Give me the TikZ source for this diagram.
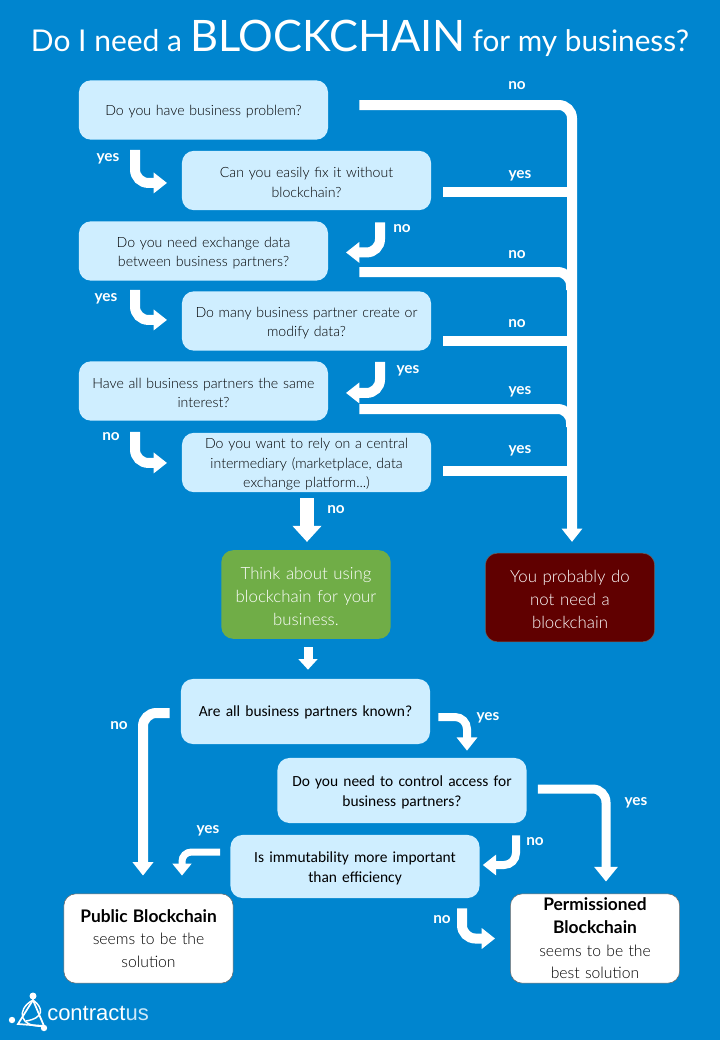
\documentclass[tikz,border=0pt]{standalone}
\usepackage{fontspec}
\setmainfont{Lato}[UprightFont=* Light,BoldFont=* Bold]
\newfontfamily\titlef{Lato}
\newfontfamily\carl{Carlito}
\newfontfamily\logof{Liberation Sans}
\usetikzlibrary{arrows.meta,calc}
\definecolor{bgblue}{HTML}{0085CF}
\definecolor{boxblue}{HTML}{CFEEFF}
\definecolor{boxgreen}{HTML}{70AD47}
\definecolor{boxred}{HTML}{600000}
\definecolor{logolight}{HTML}{CBE8F8}
\tikzset{
  x=0.75pt,y=-0.75pt,line join=round,
  basebox/.style={rounded corners=9pt,align=center,inner sep=0pt,anchor=center,font=\fontsize{10.6}{14.6}\selectfont,text=black},
  lower text/.style={execute at end node={\par\vspace*{-3pt}}},
  qbox/.style={basebox,lower text,fill=boxblue,minimum width=186.8pt,minimum height=44.5pt,text width=184pt},
  kbox/.style={basebox,lower text,fill=boxblue,minimum width=186.8pt,font=\carl\fontsize{11.6}{14.5}\selectfont,text=black,text width=184pt},
  endbox/.style={basebox,fill=white,draw=black!60,line width=0.4pt,minimum width=127pt,minimum height=67pt,text width=125pt,font=\fontsize{11.8}{17}\selectfont},
  resbox/.style={basebox,lower text,minimum width=127pt,minimum height=66.5pt,text=white,text width=125pt,font=\fontsize{12.6}{17}\selectfont},
  lab/.style={text=white,font=\bfseries\fontsize{11.5}{13}\selectfont,inner sep=0pt},
  thick arrow/.style={draw=white,line width=#1*0.75pt,rounded corners=10pt},
  wa/.style={thick arrow=10,-{Triangle[width=15pt,length=10pt,fill=white]}},
  sa/.style={thick arrow=8,rounded corners=9pt,-{Triangle[width=15pt,length=10pt,fill=white]}},
  branch/.style={thick arrow=10},
}
\begin{document}
\begin{tikzpicture}
\useasboundingbox (0,0) rectangle (720,1040);
\fill[bgblue] (0,0) rectangle (720,1040);

\node[text=white,inner sep=0pt,anchor=center] (title) at (360,38)
  {\titlef\fontsize{22.5}{28}\selectfont Do I need a\hspace{6pt}\fontsize{32.5}{38}\selectfont BLOCKCHAIN\hspace{5pt}\fontsize{22.3}{28}\selectfont for my business?};

\node[qbox] (q1) at (203.5,110) {Do you have business problem?};
\node[qbox] (q2) at (306.5,180.5) {Can you easily fix it without\\blockchain?};
\node[qbox] (q3) at (203.5,251) {Do you need exchange data\\between business partners?};
\node[qbox] (q4) at (306.5,321) {Do many business partner create or\\modify data?};
\node[qbox] (q5) at (203.5,391) {Have all business partners the same\\interest?};
\node[qbox] (q6) at (306.5,462.5) {Do you want to rely on a central\\intermediary (marketplace, data\\exchange platform...)};
\node[resbox,fill=boxgreen] (think) at (306,594.5) {Think about using\\blockchain for your\\business.};
\node[resbox,fill=boxred,draw=black!60,line width=0.4pt] (nope) at (570,597.5) {You probably do\\not need a\\blockchain};
\node[kbox,minimum height=48.8pt] (q7) at (305.5,711.5) {Are all business partners known?};
\node[kbox,minimum height=48.8pt] (q8) at (402,790.5) {Do you need to control access for\\business partners?};
\node[kbox,minimum height=47.3pt] (q9) at (355,866.5) {Is immutability more important\\than efficiency};
\node[endbox] (pub) at (148.5,938.5) {{\bfseries\fontsize{13}{17}\selectfont Public Blockchain}\\seems to be the\\solution};
\node[endbox] (perm) at (595,938.5) {{\bfseries\fontsize{13}{17}\selectfont Permissioned\\Blockchain}\\seems to be the\\best solution};

% trunk into the red box
\draw[wa] ([shift={(31,-5)}]q1.east) -- (572,105) -- ([shift={(2,-11)}]nope.north);
\draw[branch] ([shift={(12,11.5)}]q2.east) -- (572,192);
\draw[branch] ([shift={(31,21)}]q3.east) -- (571,272) -- (571,290);
\draw[branch] ([shift={(12,19.5)}]q4.east) -- (572,340.5);
\draw[branch] ([shift={(31,18)}]q5.east) -- (571,409) -- (571,427);
\draw[branch] ([shift={(12,8.5)}]q6.east) -- (572,471);

% short elbows
\draw[wa] ([shift={(-68.5,10)}]q1.south) -- ++(0,33) -- ++(32,0);
\draw[wa] ([shift={(73.5,12)}]q2.south) -- ++(0,30) -- ++(-34,0);
\draw[wa] ([shift={(-68.5,9)}]q3.south) -- ++(0,30) -- ++(32,0);
\draw[wa] ([shift={(73.5,11)}]q4.south) -- ++(0,31) -- ++(-34,0);
\draw[wa] ([shift={(-68.5,11)}]q5.south) -- ++(0,31) -- ++(32,0);
\draw[thick arrow=14,-{Triangle[width=21pt,length=12pt,fill=white]}] ([shift={(0.5,6)}]q6.south) -- ([shift={(1,-8)}]think.north);
\draw[thick arrow=9,-{Triangle[width=14pt,length=8pt,fill=white]}] ([shift={(2,8)}]think.south) -- ([shift={(2.5,-9)}]q7.north);

% lower part
\draw[wa] ([shift={(-11,1.5)}]q7.west) -- (143,713) -- ([shift={(-5.5,-18)}]pub.north);
\draw[sa] ([shift={(8,5.5)}]q7.east) -- (467,717) -- ([shift={(65,-7)}]q8.north);
\draw[thick arrow=9,-{Triangle[width=17pt,length=11pt,fill=white]}] ([shift={(11,-1.5)}]q8.east) -- (606,789) -- ([shift={(11,-12)}]perm.north);
\draw[sa] ([shift={(114,12)}]q8.south) -- (516,865) -- ([shift={(3,-1.5)}]q9.east);
\draw[thick arrow=7,rounded corners=7pt,-{Triangle[width=14pt,length=9pt,fill=white]}] ([shift={(-10,-14.5)}]q9.west) -- (182,852) -- ([shift={(33.5,-18)}]pub.north);
\draw[wa] ([shift={(107,10)}]q9.south) -- (462,938.5) -- ([shift={(-15,0)}]perm.west);

% labels
\node[lab] (l1) at (517,86) {no};
\node[lab] (l2) at (108,159) {yes};
\node[lab] (l3) at (520,176) {yes};
\node[lab] (l4) at (402,229) {no};
\node[lab] (l5) at (517,255) {no};
\node[lab] (l6) at (106,299) {yes};
\node[lab] (l7) at (517,324) {no};
\node[lab] (l8) at (408,371) {yes};
\node[lab] (l9) at (520,392) {yes};
\node[lab] (l10) at (111,437) {no};
\node[lab] (l11) at (520,451) {yes};
\node[lab] (l12) at (336,510) {no};
\node[lab] (l13) at (488,718) {yes};
\node[lab] (l14) at (119,726) {no};
\node[lab] (l15) at (636,803) {yes};
\node[lab] (l16) at (208,831) {yes};
\node[lab] (l17) at (535,842) {no};
\node[lab] (l18) at (442,920) {no};

% logo
\draw[white,line width=1.3pt] (33,1000) -- (18,1024) -- (44,1026) -- cycle;
\draw[white,line width=1.1pt] (33,1000) .. controls (15,1010) and (20,1028) .. (44,1026);
\draw[white,line width=1.1pt] (33,1000) .. controls (44,1008) and (44,1018) .. (26,1021);
\fill[white] (33,996) circle (3.5) (12,1020) circle (3.2) (44,1028) circle (3.2);
\node[anchor=west,inner sep=0pt,text=white] (logo) at (47,1013) {\logof\fontsize{16.5}{18}\selectfont contract\textcolor{logolight}{us}};
\end{tikzpicture}
\end{document}
